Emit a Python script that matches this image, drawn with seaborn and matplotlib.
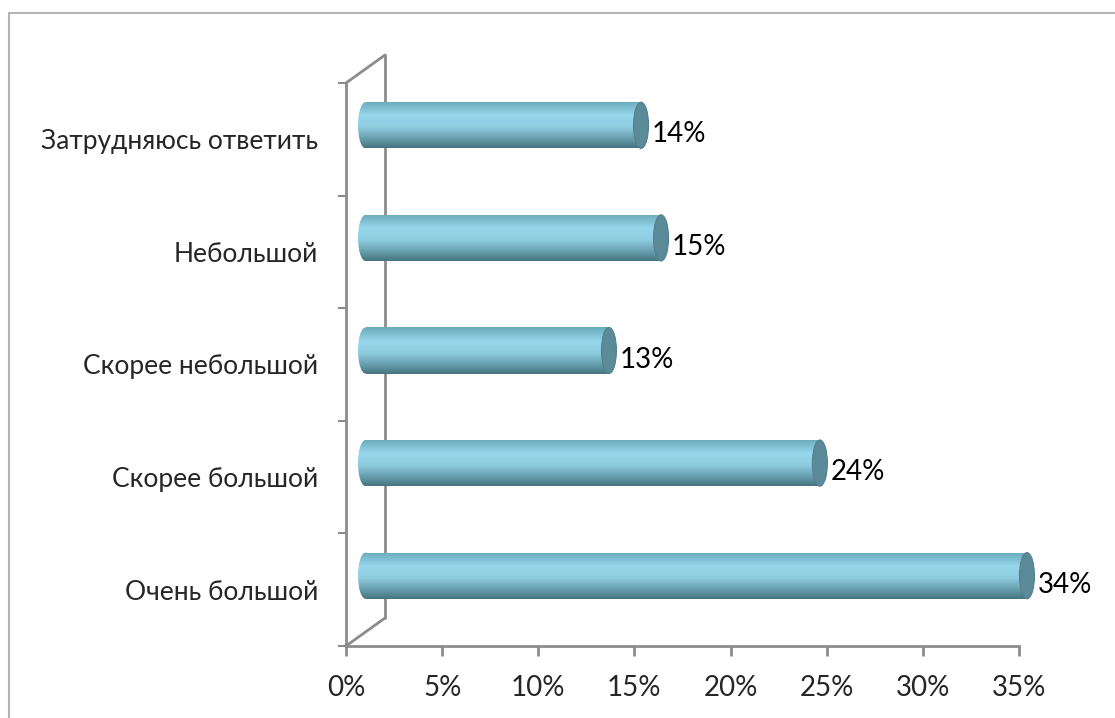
import numpy as np
import pandas as pd
import matplotlib
matplotlib.use("Agg")
import matplotlib.pyplot as plt
from matplotlib.patches import Ellipse, Rectangle
from matplotlib.lines import Line2D
from matplotlib.colors import LinearSegmentedColormap
import seaborn as sns

# data (bar lengths estimated, labels as printed)
categories = ["Затрудняюсь ответить", "Небольшой", "Скорее небольшой", "Скорее большой", "Очень большой"]
values = [14.33, 15.37, 12.66, 23.63, 34.40]
labels = ["14%", "15%", "13%", "24%", "34%"]
xticks = [0, 5, 10, 15, 20, 25, 30, 35]
xticklabels = ["0%", "5%", "10%", "15%", "20%", "25%", "30%", "35%"]

df = pd.DataFrame({"cat": categories, "val": values})

sns.set_theme(style="white")
plt.rcParams["font.family"] = ["Lato", "DejaVu Sans"]

W, H = 1115, 718
fig = plt.figure(figsize=(W / 100, H / 100), dpi=100)

# front plane of the 3d box (pixels)
x0, x1, ytop, ybot = 346, 1019, 83, 646
dx, dy = 39, 28
gray = "#8c8c8c"
ppu = (x1 - x0) / 35  # pixels per percent
pad_u = 2  # extra room on the left of the bar axes (data units)

ax = fig.add_axes([x0 / W, 1 - ybot / H, (x1 - x0) / W, (ybot - ytop) / H])
axb = fig.add_axes([(x0 + dx / 2 - pad_u * ppu) / W, 1 - (ybot - dy / 2) / H,
                    (x1 - x0 + pad_u * ppu) / W, (ybot - ytop) / H])

# bars at mid depth
sns.barplot(data=df, x="val", y="cat", ax=axb, width=0.41, color="#8fcfe2", saturation=1)
axb.set_axis_off()
axb.patch.set_alpha(0)
ax.patch.set_alpha(0)

cmap = LinearSegmentedColormap.from_list("cyl", [
    (0.0, "#6aaabd"), (0.3, "#97d7eb"), (0.55, "#8fcde0"), (0.85, "#5f95a4"), (1.0, "#467480")])
grad = np.linspace(0, 1, 64).reshape(-1, 1)
ew = 15 / ppu

for p, lab in zip(axb.patches, labels):
    xL, yB = p.get_x(), p.get_y()
    w, h = p.get_width(), p.get_height()
    p.set_alpha(0)
    body = Rectangle((xL, yB), w, h, transform=axb.transData, fill=False, lw=0)
    axb.add_patch(body)
    im = axb.imshow(grad, cmap=cmap, aspect="auto", extent=(xL - ew, xL + w, yB + h, yB),
                    interpolation="bilinear", zorder=2)
    im.set_clip_path(body)
    left = Ellipse((xL, yB + h / 2), ew, h, transform=axb.transData, fill=False, lw=0)
    axb.add_patch(left)
    im2 = axb.imshow(grad, cmap=cmap, aspect="auto", extent=(xL - ew, xL + w, yB + h, yB),
                     interpolation="bilinear", zorder=2)
    im2.set_clip_path(left)
    cap = Ellipse((xL + w, yB + h / 2), ew, h, facecolor="#5b8b99", edgecolor="#52808d",
                  lw=0.8, zorder=3)
    axb.add_patch(cap)
    axb.annotate(lab, (xL + w, yB + h / 2), xytext=(ew / 2 * ppu + 3, -9),
                 textcoords="offset pixels", ha="left", va="center", fontsize=20, color="black")
axb.set_xlim(-pad_u, 35)
axb.set_ylim(4.5, -0.5)
ax.set_xlim(0, 35)
ax.set_ylim(4.5, -0.5)

# front axes: ticks and labels
for s in ("top", "right"):
    ax.spines[s].set_visible(False)
for s in ("left", "bottom"):
    ax.spines[s].set_color(gray)
    ax.spines[s].set_linewidth(2)
ax.set_xticks(xticks)
ax.set_xticklabels(xticklabels, fontsize=20)
ax.set_yticks(np.arange(-0.5, 5, 1))
ax.set_yticklabels([])
ax.set_yticks(range(len(categories)), minor=True)
ax.set_yticklabels(categories, minor=True, fontsize=19)
ax.tick_params(axis="x", which="major", direction="out", length=7, width=2, color=gray, pad=14,
               bottom=True)
ax.tick_params(axis="y", which="major", direction="out", length=6, width=1.5, color=gray, left=True)
ax.tick_params(axis="y", which="minor", length=0, pad=20)
ax.set_xlabel("")
ax.set_ylabel("")

# side wall edges of the 3d box
def fx(px):
    return px / W

def fy(py):
    return 1 - py / H

for (ax_, ay_), (bx_, by_) in [((x0, ytop), (x0 + dx, ytop - dy)),
                               ((x0, ybot), (x0 + dx, ybot - dy)),
                               ((x0 + dx, ytop - dy), (x0 + dx, ybot - dy))]:
    fig.add_artist(Line2D([fx(ax_), fx(bx_)], [fy(ay_), fy(by_)], color=gray, lw=2, zorder=0))

# outer frame
fig.add_artist(Line2D([fx(9), fx(W)], [fy(13), fy(13)], color="#b5b5b5", lw=1.5))
fig.add_artist(Line2D([fx(9), fx(9)], [fy(13), 0], color="#b5b5b5", lw=1.5))

fig.savefig("out.png", dpi=100)
